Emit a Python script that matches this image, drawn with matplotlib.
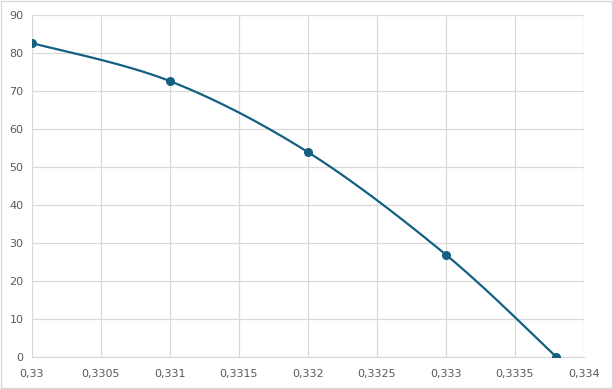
import numpy as np
import matplotlib
matplotlib.use('Agg')
import matplotlib.pyplot as plt
from matplotlib.ticker import FuncFormatter

# Dados
x_vals = [0.330, 0.331, 0.332, 0.333, 0.3338]
y_vals = [82.6, 72.6, 53.9, 26.9, 0.0]

x_ticks = [0.33, 0.3305, 0.331, 0.3315, 0.332, 0.3325, 0.333, 0.3335, 0.334]
y_ticks = list(range(0, 91, 10))

cor = '#156082'


def suaviza(xs, ys, n=40):
    # curva suave tipo Excel (Bezier com pontos de controle Catmull-Rom)
    xs = np.asarray(xs, float)
    ys = np.asarray(ys, float)
    pts = np.column_stack([xs, ys])
    out = []
    for i in range(len(pts) - 1):
        p0 = pts[i - 1] if i > 0 else pts[i]
        p1 = pts[i]
        p2 = pts[i + 1]
        p3 = pts[i + 2] if i + 2 < len(pts) else pts[i + 1]
        c1 = p1 + (p2 - p0) / 6
        c2 = p2 - (p3 - p1) / 6
        t = np.linspace(0, 1, n)[:, None]
        seg = ((1 - t) ** 3) * p1 + 3 * ((1 - t) ** 2) * t * c1 + 3 * (1 - t) * t ** 2 * c2 + t ** 3 * p2
        out.append(seg)
    arr = np.vstack(out)
    return arr[:, 0], arr[:, 1]


fig = plt.figure(figsize=(6.13, 3.89), dpi=100)
ax = fig.add_axes([32 / 613, 32 / 389, 552 / 613, 342 / 389])

sx, sy = suaviza(x_vals, y_vals)
ax.plot(sx, sy, color=cor, lw=1.6, zorder=3, solid_capstyle='round')
ax.plot(x_vals, y_vals, 'o', color=cor, ms=5.5, zorder=4)

ax.set_xlim(0.33, 0.334)
ax.set_ylim(0, 90)
ax.set_xticks(x_ticks)
ax.set_yticks(y_ticks)
ax.xaxis.set_major_formatter(FuncFormatter(lambda v, p: ('%g' % round(v, 4)).replace('.', ',')))
ax.grid(True, color='#d9d9d9', lw=0.9)
ax.set_axisbelow(True)
for s in ['top', 'right', 'left']:
    ax.spines[s].set_visible(False)
ax.spines['bottom'].set_color('#d9d9d9')
ax.tick_params(length=0, labelsize=8, labelcolor='#595959', pad=9)
ax.tick_params(axis='y', pad=6)

# borda do gráfico
fig.patches.append(plt.Rectangle((0.001, 0.002), 0.997, 0.995, transform=fig.transFigure,
                                 fill=False, edgecolor='#d9d9d9', lw=1))

fig.savefig('out.png', dpi=100)
